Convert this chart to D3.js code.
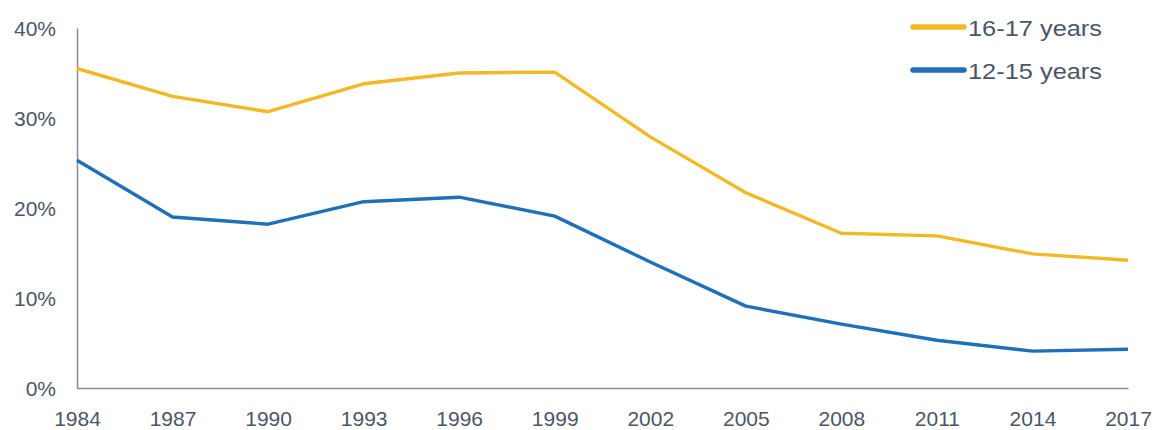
<!DOCTYPE html>
<html>
<head>
<meta charset="utf-8">
<script src="https://cdn.jsdelivr.net/npm/d3@7"></script>
<style>
  html, body { margin: 0; padding: 0; background: #fff; }
  svg { display: block; }
  text { font-family: "Liberation Sans", Arial, sans-serif; }
</style>
</head>
<body>
<svg id="chart" width="1162" height="430"></svg>
<script>
// Survey years and share of young people in each age group (%)
const years = [1984, 1987, 1990, 1993, 1996, 1999, 2002, 2005, 2008, 2011, 2014, 2017];
const ages16to17 = [35.5, 32.4, 30.7, 33.8, 35.0, 35.1, 27.9, 21.7, 17.2, 16.9, 14.9, 14.2];
const ages12to15 = [25.3, 19.0, 18.2, 20.7, 21.2, 19.1, 14.0, 9.1, 7.1, 5.3, 4.1, 4.3];
const yTicks = [0, 10, 20, 30, 40];
const seriesNames = ["16-17 years", "12-15 years"];
const seriesColors = ["#f1b925", "#1f70b8"];

const svg = d3.select("#chart");
const plotLeft = 77, plotRight = 1128, plotTop = 28, plotBottom = 388;
const textColor = "#4b5668";

const x = d3.scaleLinear().domain([1984, 2017]).range([plotLeft, plotRight]);
const y = d3.scaleLinear().domain([0, 40]).range([plotBottom, plotTop]);

// Axes
const yAxis = d3.axisLeft(y).tickValues(yTicks).tickSize(0).tickPadding(0)
  .tickFormat(d => d + "%");
const gy = svg.append("g").attr("transform", `translate(${plotLeft},0)`).call(yAxis);
gy.select(".domain").attr("stroke", "#8a8d92").attr("stroke-width", 1.5);
gy.selectAll("text")
  .attr("x", -21).attr("dy", "0.36em")
  .attr("fill", textColor).attr("font-size", 21);

const xAxis = d3.axisBottom(x).tickValues(years).tickSize(0).tickPadding(0)
  .tickFormat(d3.format("d"));
const gx = svg.append("g").attr("transform", `translate(0,${plotBottom})`).call(xAxis);
gx.select(".domain").attr("stroke", "#8a8d92").attr("stroke-width", 1.5);
gx.selectAll("text")
  .attr("y", 38).attr("dy", 0)
  .attr("fill", textColor).attr("font-size", 21);

// Lines
const series = [ages16to17, ages12to15];
const line = d3.line().x((d, i) => x(years[i])).y(d => y(d));
series.forEach((vals, k) => {
  svg.append("path")
    .datum(vals)
    .attr("fill", "none")
    .attr("stroke", seriesColors[k])
    .attr("stroke-width", 3.4)
    .attr("stroke-linejoin", "round")
    .attr("d", line);
});

// Legend
const legend = svg.append("g").attr("transform", "translate(913,27)");
seriesNames.forEach((name, k) => {
  const g = legend.append("g").attr("transform", `translate(0,${k * 43})`);
  g.append("line").attr("x1", 0).attr("x2", 51).attr("y1", 0).attr("y2", 0)
    .attr("stroke", seriesColors[k]).attr("stroke-width", 5.5).attr("stroke-linecap", "round");
  g.append("text").attr("x", 55).attr("y", 1).attr("dy", "0.36em")
    .attr("fill", textColor).attr("font-size", 22)
    .attr("textLength", 134).attr("lengthAdjust", "spacingAndGlyphs")
    .text(name);
});
</script>
</body>
</html>
